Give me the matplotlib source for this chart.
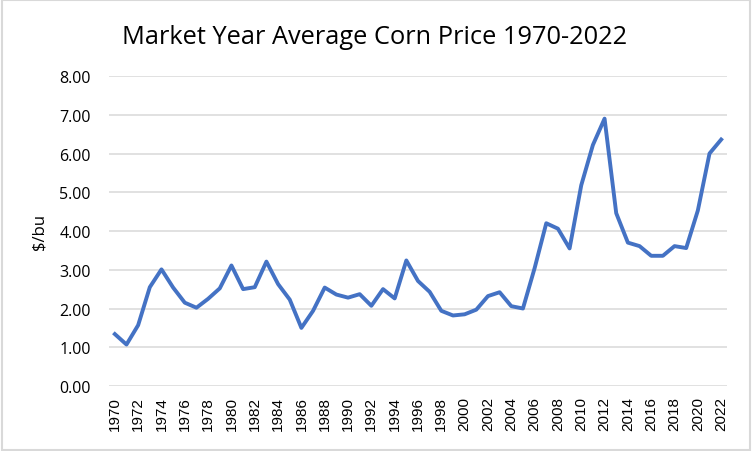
import matplotlib
matplotlib.use("Agg")
import matplotlib.pyplot as plt
from matplotlib.patches import Rectangle

years = list(range(1970, 2023))
prices = [1.34, 1.07, 1.57, 2.55, 3.01, 2.54, 2.15, 2.02, 2.25, 2.52,
          3.11, 2.50, 2.55, 3.21, 2.63, 2.23, 1.50, 1.94, 2.54, 2.36,
          2.28, 2.37, 2.07, 2.50, 2.26, 3.24, 2.71, 2.43, 1.94, 1.82,
          1.85, 1.97, 2.32, 2.42, 2.06, 2.00, 3.04, 4.20, 4.06, 3.55,
          5.18, 6.22, 6.90, 4.46, 3.70, 3.61, 3.36, 3.36, 3.61, 3.56,
          4.53, 6.00, 6.36]
yticks = [0, 1, 2, 3, 4, 5, 6, 7, 8]
title = "Market Year Average Corn Price 1970-2022"
ylabel = "$/bu"

fig = plt.figure(figsize=(7.52, 4.52), dpi=100)
ax = fig.add_axes([109/752, 1-387/452, (727-109)/752, (387-77)/452])

x = list(range(len(years)))
ax.plot(x, prices, color="#4472C4", linewidth=2.8, solid_joinstyle="round", zorder=3)

ax.set_xlim(-0.5, len(years) - 0.5)
ax.set_ylim(0, 8)
ax.set_yticks(yticks)
ax.set_yticklabels([f"{v:.2f}" for v in yticks], fontfamily="Open Sans", fontsize=11.5, color="#000000")
ax.set_xticks(x[::2])
ax.set_xticklabels([str(y) for y in years[::2]], rotation=90, fontfamily="Liberation Sans",
                   fontsize=11, va="top", ha="center")
ax.tick_params(axis="both", length=0)
ax.tick_params(axis="y", pad=13)
ax.tick_params(axis="x", pad=7)
ax.grid(axis="y", color="#D9D9D9", linewidth=1.1)
ax.set_axisbelow(True)
for s in ax.spines.values():
    s.set_visible(False)

fig.text(375/752, 1-37/452, title, fontfamily="Open Sans", fontsize=18.3, ha="center", va="center")
fig.text(40/752, 1-232/452, ylabel, fontfamily="Open Sans", fontsize=12, rotation=90, ha="center", va="center")

fig.patches.append(Rectangle((0.002, 0.003), 0.996, 0.994, transform=fig.transFigure,
                             fill=False, edgecolor="#D9D9D9", linewidth=1.5))

fig.savefig("out.png", dpi=100, facecolor="white")
